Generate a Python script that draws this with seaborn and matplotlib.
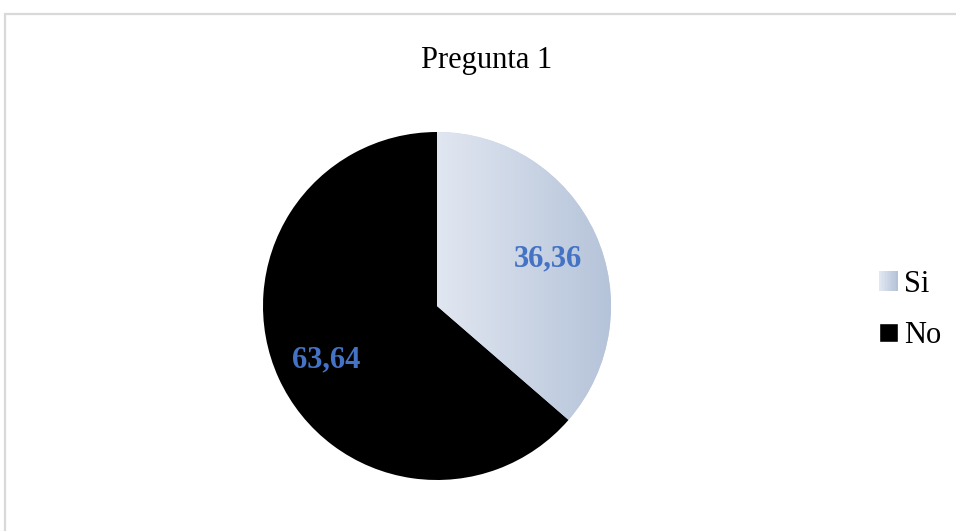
import numpy as np
import matplotlib
matplotlib.use("Agg")
import matplotlib.pyplot as plt
import seaborn as sns
from matplotlib.patches import Rectangle
from matplotlib.legend_handler import HandlerBase
from matplotlib.colors import LinearSegmentedColormap

categories = ["Si", "No"]
values = [36.36, 63.64]
title = "Pregunta 1"

sns.set_theme(style="white")
plt.rcParams["font.family"] = ["Liberation Serif", "DejaVu Serif"]

W, H = 956, 531
fig = plt.figure(figsize=(W / 100, H / 100), dpi=100)

# chart frame (open on the right and bottom)
frame = Rectangle((4.5 / W, -0.1), 1.2, (H - 13.5) / H + 0.1, transform=fig.transFigure,
                  fill=False, edgecolor="#d9d9d9", linewidth=1.6)
fig.patches.append(frame)

grad = LinearSegmentedColormap.from_list("si", ["#e1e7f1", "#b5c3d9"])

# pie axes placed in pixel box
cx, cy, r = 437, 306, 174
ax = fig.add_axes([(cx - r) / W, (H - cy - r) / H, 2 * r / W, 2 * r / H])
wedges, texts, autotexts = ax.pie(
    values, colors=["#c8d2e3", "#000000"], startangle=90, counterclock=False,
    autopct=lambda p: f"{p:.2f}".replace(".", ","), pctdistance=0.70,
    wedgeprops=dict(linewidth=0), radius=1.0)
ax.set_xlim(-1, 1)
ax.set_ylim(-1, 1)
ax.set_aspect("equal")
ax.axis("off")

# horizontal gradient fill for the "Si" slice
si = wedges[0]
img = ax.imshow(np.linspace(0, 1, 256).reshape(1, -1), cmap=grad, aspect="auto",
                extent=[0, 1, -1, 1], zorder=si.get_zorder() + 0.1)
img.set_clip_path(si)
ax.set_xlim(-1, 1)
ax.set_ylim(-1, 1)

for t in autotexts:
    t.set_color("#4472c4")
    t.set_fontsize(22)
    t.set_fontweight("bold")
    t.set_verticalalignment("center_baseline")
    t.set_zorder(5)

fig.text(487 / W, 1 - 57 / H, title, ha="center", va="center_baseline", fontsize=22, color="#000000")


class GradientHandler(HandlerBase):
    def create_artists(self, legend, orig_handle, xdescent, ydescent, width, height, fontsize, trans):
        n = 12
        arts = []
        for i in range(n):
            c = grad(i / (n - 1))
            arts.append(Rectangle((-xdescent + width * i / n, -ydescent), width / n + 0.2, height,
                                  facecolor=c, edgecolor="none", transform=trans))
        return arts


h_si = Rectangle((0, 0), 1, 1, facecolor="#c8d2e3")
h_no = Rectangle((0, 0), 1, 1, facecolor="#000000")
fig.legend([h_si, h_no], categories, loc="center left", bbox_to_anchor=(867 / W, 1 - 310 / H),
           frameon=False, fontsize=22, handlelength=0.6, handleheight=0.6, handletextpad=0.2,
           labelspacing=0.74, borderaxespad=0, labelcolor="#000000",
           handler_map={h_si: GradientHandler()})

fig.savefig("out.png", dpi=100)
